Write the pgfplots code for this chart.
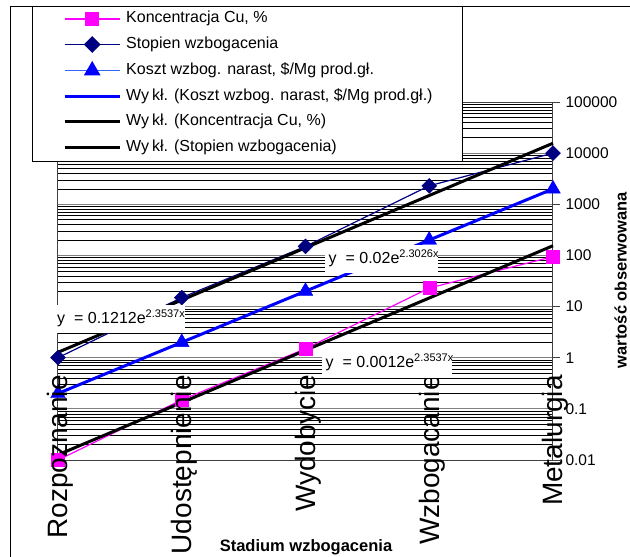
\documentclass[border=0pt]{standalone}
\usepackage{pgfplots}
\pgfplotsset{compat=1.18}
\usepackage{fontspec}
\setmainfont{Liberation Sans}
\definecolor{cumag}{RGB}{255,0,255}
\definecolor{navyd}{RGB}{0,0,128}
\definecolor{bluet}{RGB}{0,0,255}
\definecolor{lblue}{RGB}{51,102,255}
\definecolor{gridgray}{RGB}{128,128,128}
\begin{document}
\begin{tikzpicture}[x=1pt,y=1pt]
\useasboundingbox (0,0) rectangle (630,-557);
\draw[black, line width=0.9pt] (10,-560) -- (10,-6) -- (640,-6);
\begin{axis}[
  at={(58pt,-460pt)}, anchor=south west,
  width=495pt, height=358pt, scale only axis,
  clip=false,
  xmin=1, xmax=5,
  xtick=\empty,
  minor xtick={1,1.5,2,2.5,3,3.5,4,4.5,5},
  ymode=log, ymin=0.01, ymax=100000,
  ytick={0.01,0.1,1,10,100,1000,10000,100000},
  yticklabels={0.01,0.1,1,10,100,1000,10000,100000},
  minor ytick={0.02,0.03,0.04,0.05,0.06,0.07,0.08,0.09,0.2,0.3,0.4,0.5,0.6,0.7,0.8,0.9,2,3,4,5,6,7,8,9,20,30,40,50,60,70,80,90,200,300,400,500,600,700,800,900,2000,3000,4000,5000,6000,7000,8000,9000,20000,30000,40000,50000,60000,70000,80000,90000},
  ytick pos=right, yticklabel pos=right,
  tick align=outside,
  major tick length=7pt, minor tick length=0pt,
  ymajorgrids, xminorgrids, yminorgrids,
  major grid style={gridgray, line width=1pt},
  minor grid style={black, line width=0.55pt},
  axis line style={draw=black!75, line width=1pt},
  tick style={black!75, line width=1pt},
  yticklabel style={font=\fontsize{15.5}{18}\selectfont, xshift=2pt},
  /pgf/number format/assume math mode=true,
  legend style={at={(0.0101,1.2550)}, anchor=north west, draw=none, fill=none,
    inner sep=0pt, row sep=9.6pt, column sep=5pt,
    font=\fontsize{16}{19}\selectfont,
    nodes={inner sep=0pt, text height=12pt, text depth=4pt},
    cells={anchor=west}},
  legend image code/.code={\draw[mark repeat=2,mark phase=2] plot coordinates {(0pt,0pt)(27.5pt,0pt)(55pt,0pt)};},
]
% data lines (under the trend lines)
\addplot[cumag, line width=1.2pt, forget plot] coordinates {(1,0.01)(2,0.15)(3,1.5)(4,23)(5,95)};
\addplot[navyd, line width=1.2pt, forget plot] coordinates {(1,1)(2,15)(3,150)(4,2300)(5,10000)};
\addplot[lblue, line width=1.2pt, forget plot] coordinates {(1,0.2)(2,2)(3,20)(4,200)(5,2000)};
% trend lines
\addplot[bluet, line width=3pt, forget plot] coordinates {(1,0.2)(5,2000)};
\addplot[black, line width=3pt, forget plot] coordinates {(1,0.01263)(5,154.8)};
\addplot[black, line width=3pt, forget plot] coordinates {(1,1.2755)(5,15634)};
% data markers on top
\addplot[cumag, only marks, mark=square*, mark size=6.5pt, forget plot] coordinates {(1,0.01)(2,0.15)(3,1.5)(4,23)(5,95)};
\addplot[navyd, only marks, mark=square*, mark size=5.3pt, mark options={rotate=45}, forget plot] coordinates {(1,1)(2,15)(3,150)(4,2300)(5,10000)};
\addplot[bluet, only marks, mark=triangle*, mark size=8.5pt, forget plot] coordinates {(1,0.2)(2,2)(3,20)(4,200)(5,2000)};
% legend
\addlegendimage{cumag, line width=1.2pt, mark=square*, mark size=6.5pt}
\addlegendentry{Koncentracja Cu, \%}
\addlegendimage{navyd, line width=1.2pt, mark=square*, mark size=5.3pt, mark options={rotate=45}}
\addlegendentry{Stopien wzbogacenia}
\addlegendimage{lblue, line width=1.2pt, mark=triangle*, mark size=8.5pt, mark options={bluet}}
\addlegendentry{Koszt wzbog. narast, \$/Mg prod.gł.}
\addlegendimage{bluet, line width=3pt}
\addlegendentry{Wy\hspace{3pt}kł. (Koszt wzbog. narast, \$/Mg prod.gł.)}
\addlegendimage{black, line width=3pt}
\addlegendentry{Wy\hspace{3pt}kł. (Koncentracja Cu, \%)}
\addlegendimage{black, line width=3pt}
\addlegendentry{Wy\hspace{3pt}kł. (Stopien wzbogacenia)}
% legend frame
\path[draw=black, line width=0.9pt, fill=white] (rel axis cs:-0.05253,1.26816) rectangle (rel axis cs:0.81616,0.83520);
\end{axis}
% category labels
\foreach \xx/\lab in {58/Rozpoznanie, 182/Udostępnienie, 306/Wydobycie, 430/Wzbogacanie, 553/Metalurgia}{
  \node[xshift=2.5pt, rotate=90, anchor=east, inner sep=0pt, font=\fontsize{28}{28}\selectfont] at (\xx,-375) {\lab};
}
% trend equations
\node[anchor=west, fill=white, inner sep=0pt, minimum height=28pt, font=\fontsize{16}{19}\selectfont] at (48,-318.5) {\makebox[137pt][l]{\hspace*{9pt}y\ \ = 0.1212e\raisebox{6.5pt}{\fontsize{11}{11}\selectfont 2.3537x}}};
\node[anchor=west, fill=white, inner sep=0pt, minimum height=28pt, font=\fontsize{16}{19}\selectfont] at (325,-258.5) {\makebox[113pt][l]{\hspace*{3.5pt}y\ \ = 0.02e\raisebox{6.5pt}{\fontsize{11}{11}\selectfont 2.3026x}}};
\node[anchor=west, fill=white, inner sep=0pt, minimum height=30pt, font=\fontsize{16}{19}\selectfont] at (322,-362.5) {\makebox[130pt][l]{\hspace*{3.5pt}y\ \ = 0.0012e\raisebox{6.5pt}{\fontsize{11}{11}\selectfont 2.3537x}}};
% axis titles
\node[font=\bfseries\fontsize{16.5}{19}\selectfont] at (306,-547.5) {Stadium wzbogacenia};
\node[rotate=90, anchor=base, font=\bfseries\fontsize{16.5}{19}\selectfont] at (626.5,-280) {wartość obserwowana};
\end{tikzpicture}
\end{document}
